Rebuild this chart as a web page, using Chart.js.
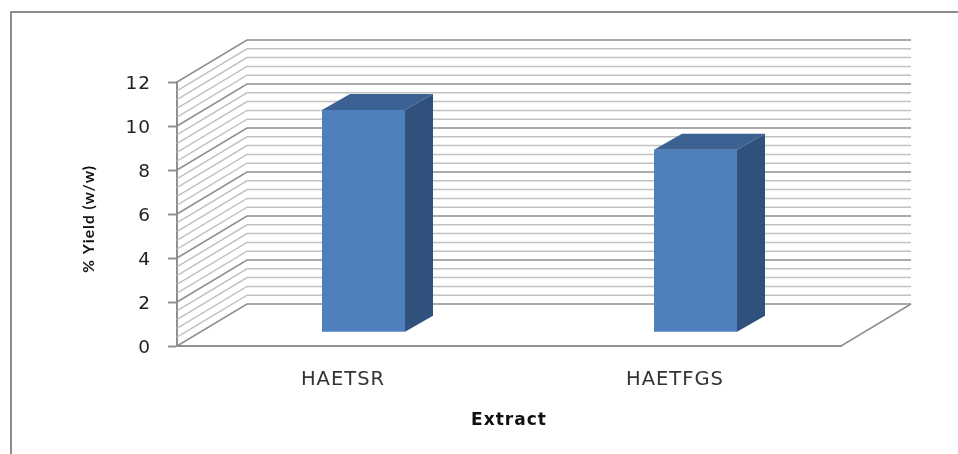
<!DOCTYPE html>
<html>
<head>
<meta charset="utf-8">
<script src="https://cdn.jsdelivr.net/npm/chart.js@4"></script>
<style>
html, body { margin: 0; background: #fff; overflow: hidden; }
#wrap { position: relative; width: 958px; height: 454px; }
#frame { position: absolute; left: 10px; top: 11px; right: 0; bottom: 0; border-left: 2px solid #8c8c8c; border-top: 2px solid #8c8c8c; }
canvas { position: absolute; left: 0; top: 0; }
</style>
</head>
<body>
<div id="wrap">
<div id="frame"></div>
<canvas id="chart" width="958" height="454"></canvas>
</div>
<script>
const categories = ['HAETSR', 'HAETFGS']
const yieldValues = [10.1, 8.3]
const yTicks = [0, 2, 4, 6, 8, 10, 12]

const minorStep = 0.4
const wall = { dx: 70, dy: -42 }       // depth of the 3d box
const barShift = { x: 20.5, y: -13.7 } // bars stand inside the floor
const barDepth = { dx: 28, dy: -16 }

const font = 'DejaVu Sans'

const box3d = {
    id: 'box3d',

    beforeDraw(chart) {
        // reference text is stretched wide
        chart.ctx.letterSpacing = '1px'
        chart.scales.y.getLabelItems().forEach(item => { item.textOffset += 2 })
    },

    beforeDatasetsDraw(chart) {
        const { ctx, chartArea: area, scales: { y } } = chart
        const rx = area.right + wall.dx
        const lx = area.left + wall.dx

        ctx.save()
        const steps = Math.round(12 / minorStep)
        for (let i = 0; i <= steps; i++) {
            const v = i * minorStep
            const py = y.getPixelForValue(v)
            const major = i % 5 === 0
            ctx.lineWidth = 1.5
            ctx.strokeStyle = major ? '#8f8f8f' : '#c2c2c2'
            ctx.beginPath()
            ctx.moveTo(area.left, py)
            ctx.lineTo(lx, py + wall.dy)
            ctx.lineTo(rx, py + wall.dy)
            ctx.stroke()
        }

        // floor edge on the right
        const py0 = y.getPixelForValue(0)
        ctx.strokeStyle = '#8f8f8f'
        ctx.beginPath()
        ctx.moveTo(rx, py0 + wall.dy)
        ctx.lineTo(area.right, py0)
        ctx.stroke()
        ctx.restore()
    },

    beforeDatasetDraw(chart) {
        chart.ctx.save()
        chart.ctx.translate(barShift.x, barShift.y)
    },

    afterDatasetDraw(chart, args) {
        const { ctx } = chart
        args.meta.data.forEach(bar => {
            const { x, y, base, width } = bar.getProps(['x', 'y', 'base', 'width'])
            const l = x - width / 2
            const r = x + width / 2

            ctx.fillStyle = '#30517b'
            ctx.beginPath()
            ctx.moveTo(r, y)
            ctx.lineTo(r + barDepth.dx, y + barDepth.dy)
            ctx.lineTo(r + barDepth.dx, base + barDepth.dy)
            ctx.lineTo(r, base)
            ctx.closePath()
            ctx.fill()

            ctx.fillStyle = '#3b6292'
            ctx.beginPath()
            ctx.moveTo(l, y)
            ctx.lineTo(l + barDepth.dx, y + barDepth.dy)
            ctx.lineTo(r + barDepth.dx, y + barDepth.dy)
            ctx.lineTo(r, y)
            ctx.closePath()
            ctx.fill()
        })
        ctx.restore()
    },
}

new Chart(document.getElementById('chart'), {
    type: 'bar',
    plugins: [box3d],
    data: {
        labels: categories,
        datasets: [{
            data: yieldValues,
            backgroundColor: '#4f7fbc',
            barPercentage: 1,
            categoryPercentage: 0.25,
            clip: false,
        }],
    },
    options: {
        responsive: false,
        animation: false,
        devicePixelRatio: 1,
        layout: { padding: { left: 72, right: 117, top: 82, bottom: 20 } },
        plugins: { legend: { display: false }, tooltip: { enabled: false } },
        scales: {
            x: {
                afterFit: s => { s.height = 88 },
                grid: { drawOnChartArea: false, drawTicks: false },
                border: { color: '#8f8f8f', width: 2 },
                ticks: { color: '#333', padding: 22, font: { family: font, size: 19.5 } },
                title: {
                    display: true,
                    text: 'Extract',
                    color: '#111',
                    padding: { top: 0, bottom: 3 },
                    font: { family: font, size: 17, weight: 'bold' },
                },
            },
            y: {
                min: 0,
                max: 12,
                afterFit: s => { s.width = 105 },
                afterBuildTicks: s => { s.ticks = yTicks.map(value => ({ value })) },
                grid: { drawOnChartArea: false, tickLength: 9, color: '#8f8f8f', tickWidth: 2 },
                border: { color: '#8f8f8f', width: 2 },
                ticks: { color: '#222', padding: 17, font: { family: font, size: 18.5 } },
                title: {
                    display: true,
                    text: '% Yield (w/w)  ',
                    color: '#111',
                    padding: { top: 8, bottom: 0 },
                    font: { family: 'Lato', size: 15.5, weight: 'bold' },
                },
            },
        },
    },
})
</script>
</body>
</html>
